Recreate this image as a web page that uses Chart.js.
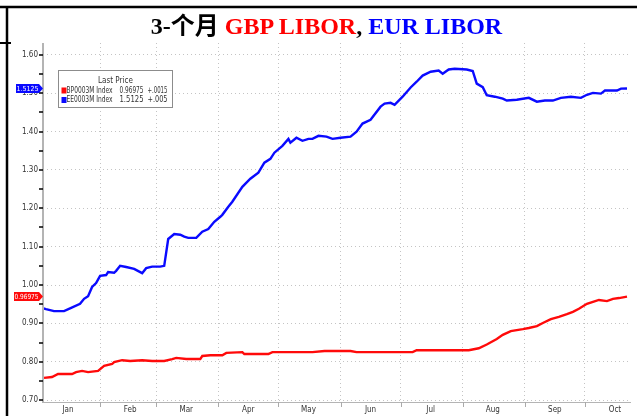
<!DOCTYPE html>
<html>
<head>
<meta charset="utf-8">
<script src="https://cdn.jsdelivr.net/npm/chart.js@4"></script>
<style>
    body { margin: 0; background: #fff; }
    #wrap { position: relative; width: 637px; height: 416px; background: #fff; overflow: hidden; }
    #chart { position: absolute; left: 0; top: 0; }
    #title {
        position: absolute; left: 16px; right: 0; top: 9px; height: 35px; line-height: 35px;
        text-align: center; font-family: "Liberation Serif", "Noto Sans CJK SC", serif;
        font-weight: bold; font-size: 24px; color: #000;
    }
    #title .gbp { color: #ff0000; }
    #title .eur { color: #0000ff; }
</style>
</head>
<body>
<div id="wrap">
    <canvas id="chart" width="637" height="416"></canvas>
    <div id="title">3-个月 <span class="gbp">GBP LIBOR</span>, <span class="eur">EUR LIBOR</span></div>
</div>
<script>
// day of year (0 = 1 Jan 2011), 3M LIBOR fixings
const eurDays = [2, 4, 8, 13, 16, 21, 23, 25, 27, 29, 31, 34, 35, 38, 39, 41, 44, 48, 52, 54, 57, 61, 63, 65,
    68, 71, 73, 75, 79, 82, 85, 88, 91, 92, 95, 97, 102, 106, 110, 113, 116, 118, 122, 125, 126, 129, 132, 135,
    137, 140, 144, 147, 151, 156, 159, 162, 166, 171, 173, 176, 178, 182, 186, 189, 192, 196, 200, 202, 205,
    208, 214, 217, 219, 222, 224, 228, 232, 234, 239, 245, 249, 253, 257, 261, 266, 271, 274, 277, 281, 283,
    289, 291, 294];
const eurRates = [0.940, 0.937, 0.932, 0.932, 0.939, 0.951, 0.964, 0.971, 0.995, 1.005, 1.024, 1.026, 1.034,
    1.032, 1.037, 1.050, 1.047, 1.042, 1.031, 1.044, 1.048, 1.048, 1.050, 1.120, 1.133, 1.131, 1.126, 1.123,
    1.123, 1.139, 1.146, 1.165, 1.178, 1.183, 1.204, 1.217, 1.256, 1.277, 1.293, 1.319, 1.329, 1.345, 1.363,
    1.381, 1.371, 1.384, 1.376, 1.381, 1.381, 1.389, 1.387, 1.381, 1.384, 1.387, 1.400, 1.421, 1.431, 1.465,
    1.473, 1.475, 1.470, 1.491, 1.515, 1.530, 1.546, 1.556, 1.559, 1.551, 1.562, 1.564, 1.562, 1.558, 1.525,
    1.516, 1.495, 1.491, 1.486, 1.481, 1.483, 1.488, 1.478, 1.481, 1.481, 1.488, 1.491, 1.488, 1.496, 1.501,
    1.499, 1.507, 1.507, 1.512, 1.5125];

const gbpDays = [3, 7, 10, 17, 19, 22, 25, 30, 33, 37, 38, 42, 46, 52, 57, 63, 67, 69, 74, 81, 82, 86, 92, 94,
    102, 103, 115, 117, 137, 143, 156, 159, 187, 189, 215, 220, 224, 229, 232, 236, 242, 245, 249, 252, 256,
    260, 264, 267, 270, 274, 277, 280, 284, 287, 290, 294];
const gbpRates = [0.758, 0.760, 0.768, 0.768, 0.773, 0.776, 0.773, 0.776, 0.789, 0.794, 0.799, 0.804, 0.802,
    0.804, 0.802, 0.802, 0.807, 0.810, 0.807, 0.807, 0.815, 0.817, 0.817, 0.823, 0.825, 0.820, 0.820, 0.825,
    0.825, 0.828, 0.828, 0.825, 0.825, 0.830, 0.830, 0.835, 0.845, 0.859, 0.870, 0.880, 0.885, 0.888, 0.893,
    0.901, 0.911, 0.917, 0.924, 0.930, 0.938, 0.951, 0.956, 0.961, 0.958, 0.964, 0.966, 0.96975];

const monthNames = ['Jan', 'Feb', 'Mar', 'Apr', 'May', 'Jun', 'Jul', 'Aug', 'Sep', 'Oct'];
const monthStarts = [0, 31, 59, 90, 120, 151, 181, 212, 243, 273];
const yTickValues = [0.70, 0.75, 0.80, 0.85, 0.90, 0.95, 1.00, 1.05, 1.10, 1.15, 1.20, 1.25, 1.30, 1.35,
    1.40, 1.45, 1.50, 1.55, 1.60];

const legendNames = ['BP0003M Index', 'EE0003M Index'];
const legendLast = ['0.96975', '1.5125'];
const legendChange = ['+.0015', '+.005'];

const RED = '#ff0a0a';
const BLUE = '#0a0aff';
const SMALL_FONT = '"Liberation Sans Narrow", "DejaVu Sans Condensed", sans-serif';

function isMajor(v) {
    return Math.round(v * 100) % 10 === 0;
}

function toPoints(days, rates) {
    return days.map((d, i) => ({ x: d, y: rates[i] }));
}

function drawBadge(ctx, y, text, color, left) {
    const right = 43, h = 9;
    ctx.fillStyle = color;
    ctx.beginPath();
    ctx.moveTo(left, y - h / 2);
    ctx.lineTo(right - 4, y - h / 2);
    ctx.lineTo(right, y);
    ctx.lineTo(right - 4, y + h / 2);
    ctx.lineTo(left, y + h / 2);
    ctx.closePath();
    ctx.fill();
    ctx.fillStyle = '#fff';
    ctx.font = '7px ' + SMALL_FONT;
    ctx.textAlign = 'center';
    ctx.textBaseline = 'middle';
    ctx.fillText(text, (left + right - 4) / 2, y + 0.5, right - left - 5);
}

const framePlugin = {
    id: 'frame',
    afterDraw(chart) {
        const ctx = chart.ctx;
        const area = chart.chartArea;
        const xs = chart.scales.x, ys = chart.scales.y;
        ctx.save();

        // outer black frame
        ctx.strokeStyle = '#000';
        ctx.lineWidth = 2.5;
        ctx.beginPath();
        ctx.moveTo(0, 7); ctx.lineTo(637, 7);
        ctx.moveTo(7, 6); ctx.lineTo(7, 416);
        ctx.stroke();
        ctx.lineWidth = 2;
        ctx.beginPath();
        ctx.moveTo(0, 43); ctx.lineTo(11, 43);
        ctx.stroke();

        // axis lines
        ctx.strokeStyle = '#b4b4b4';
        ctx.lineWidth = 2;
        ctx.beginPath();
        ctx.moveTo(area.left, area.top); ctx.lineTo(area.left, area.bottom + 1);
        ctx.stroke();
        ctx.lineWidth = 1;
        ctx.beginPath();
        ctx.moveTo(area.left, area.bottom + 0.5); ctx.lineTo(area.right, area.bottom + 0.5);
        ctx.stroke();

        // month boundary ticks
        ctx.strokeStyle = '#aaa';
        ctx.beginPath();
        monthStarts.forEach(d => {
            if (d < xs.min || d > xs.max) return;
            const px = Math.round(xs.getPixelForValue(d)) + 0.5;
            ctx.moveTo(px, area.bottom); ctx.lineTo(px, area.bottom + 5);
        });
        ctx.stroke();

        // y ticks
        ctx.strokeStyle = '#000';
        ctx.lineWidth = 1.5;
        ctx.beginPath();
        yTickValues.forEach(v => {
            const py = Math.round(ys.getPixelForValue(v));
            ctx.moveTo(area.left - 4, py); ctx.lineTo(area.left, py);
        });
        ctx.stroke();

        // last value badges
        drawBadge(ctx, ys.getPixelForValue(eurRates[eurRates.length - 1]), legendLast[1], BLUE, 16);
        drawBadge(ctx, ys.getPixelForValue(gbpRates[gbpRates.length - 1]), legendLast[0], RED, 14);

        // legend box
        const bx = 58.5, by = 70.5, bw = 114, bh = 37;
        ctx.fillStyle = '#fff';
        ctx.fillRect(bx, by, bw, bh);
        ctx.strokeStyle = '#8c8c8c';
        ctx.lineWidth = 1;
        ctx.strokeRect(bx, by, bw, bh);
        ctx.fillStyle = '#333';
        ctx.font = '8px ' + SMALL_FONT;
        ctx.textBaseline = 'middle';
        ctx.textAlign = 'center';
        ctx.fillText('Last Price', bx + bw / 2, by + 10, 36);
        ctx.textAlign = 'left';
        [RED, BLUE].forEach((c, i) => {
            const ry = by + 20 + i * 9.5;
            ctx.fillStyle = c;
            ctx.fillRect(bx + 3, ry - 3, 5, 6);
            ctx.fillStyle = '#333';
            ctx.fillText(legendNames[i], bx + 8, ry, 46);
            ctx.fillText(legendLast[i], bx + 61, ry, 24);
            ctx.fillText(legendChange[i], bx + 89, ry, 20);
        });
        ctx.restore();
    }
};

new Chart(document.getElementById('chart'), {
    type: 'line',
    data: {
        datasets: [{
            label: 'BP0003M Index',
            data: toPoints(gbpDays, gbpRates),
            borderColor: RED,
            borderWidth: 2.4,
            pointRadius: 0,
            tension: 0
        }, {
            label: 'EE0003M Index',
            data: toPoints(eurDays, eurRates),
            borderColor: BLUE,
            borderWidth: 2.4,
            pointRadius: 0,
            tension: 0
        }]
    },
    options: {
        responsive: false,
        animation: false,
        layout: { padding: { top: 43, right: 6, bottom: 0, left: 0 } },
        plugins: { legend: { display: false }, tooltip: { enabled: false }, title: { display: false } },
        scales: {
            x: {
                type: 'linear',
                min: 2.5,
                max: 296,
                afterFit: s => { s.height = 14; },
                afterBuildTicks: s => {
                    const t = [];
                    monthStarts.forEach(d => { if (d >= s.min && d <= s.max) t.push({ value: d }); });
                    monthStarts.forEach(d => t.push({ value: d + 15 }));
                    s.ticks = t;
                },
                ticks: {
                    autoSkip: false,
                    maxRotation: 0,
                    padding: 3,
                    color: '#333',
                    font: { family: SMALL_FONT, size: 8 },
                    callback: v => {
                        const i = monthStarts.indexOf(v - 15);
                        return i >= 0 ? monthNames[i] : '';
                    }
                },
                grid: {
                    drawTicks: false,
                    color: c => (c.tick && monthStarts.includes(c.tick.value)) ? '#c4c4c4' : 'rgba(0,0,0,0)'
                },
                border: { display: false, dash: [1, 3] }
            },
            y: {
                min: 0.695,
                max: 1.631,
                afterFit: s => { s.width = 43; },
                afterBuildTicks: s => { s.ticks = yTickValues.map(v => ({ value: v })); },
                ticks: {
                    padding: 5,
                    color: '#333',
                    font: { family: SMALL_FONT, size: 8 },
                    callback: v => isMajor(v) ? v.toFixed(2) : ''
                },
                grid: {
                    drawTicks: false,
                    color: c => (c.tick && isMajor(c.tick.value)) ? '#c4c4c4' : 'rgba(0,0,0,0)'
                },
                border: { display: false, dash: [1, 3] }
            }
        }
    },
    plugins: [framePlugin]
});
</script>
</body>
</html>
